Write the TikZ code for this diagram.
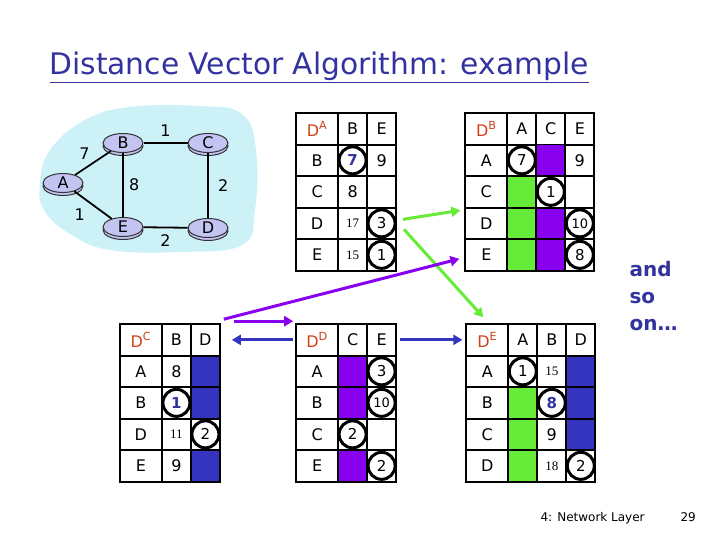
\documentclass[tikz,border=0pt]{standalone}
\usepackage{fontspec}
\setmainfont{DejaVu Sans}
\newfontfamily\numfont{Liberation Serif}
\usepackage{tikz}
\usetikzlibrary{matrix, positioning, arrows.meta, shapes.geometric, shadows}
\definecolor{dvred}{RGB}{208, 64, 24}
\definecolor{dvblue}{RGB}{51, 51, 160}
\definecolor{dvgreen}{RGB}{102, 236, 56}
\definecolor{dvpurple}{RGB}{136, 0, 238}
\definecolor{dvdblue}{RGB}{52, 52, 190}
\definecolor{netcyan}{RGB}{204, 242, 248}
\definecolor{routerfill}{RGB}{196, 196, 242}
\newcommand{\dvhead}[1]{\textcolor{dvred}{D\textsuperscript{#1}}}

\begin{document}
\begin{tikzpicture}[
    x=1pt, y=-1pt,
    cell/.style={draw, line width=1.8pt, minimum width=29pt,
                 minimum height=31.5pt, inner sep=0pt, anchor=center,
                 font=\fontsize{16}{16}\selectfont},
    dvtable/.style={matrix of nodes, nodes in empty cells, nodes={cell},
                    row sep=-1.8pt, column sep=-1.8pt, inner sep=0pt,
                    column 1/.style={nodes={minimum width=42pt}}},
    ring/.style={circle, draw, fill=white, line width=3pt,
                 minimum size=27pt, inner sep=0pt,
                 font=\fontsize{15}{15}\selectfont},
    small/.style={font=\fontsize{13}{13}\numfont},
    router/.style={ellipse, draw=black!80, fill=routerfill, line width=1pt,
                   minimum width=40pt, minimum height=19pt, inner sep=0pt,
                   copy shadow={shadow xshift=0pt, shadow yshift=-3pt},
                   font=\fontsize{16}{16}\selectfont},
    link/.style={line width=1.8pt},
    cost/.style={font=\fontsize{16}{16}\selectfont},
    arr/.style={-{Triangle[length=9pt, width=10pt]}, line width=3pt}
  ]
    \useasboundingbox (0,0) rectangle (720,540);

    \node[anchor=base west, text=dvblue, font=\fontsize{29.7}{30}\selectfont]
      (title) at (46,75) {\underline{Distance Vector Algorithm: example}};

    % network
    \fill[netcyan] plot[smooth cycle, tension=0.7] coordinates {
      (40,183) (50,150) (85,120) (130,107) (200,106) (242,114) (256,150)
      (255,210) (242,245) (180,252) (110,250) (70,234) (44,210)};
    \node[router] (rA) at (63,183) {A};
    \node[router] (rB) at (123,143) {B};
    \node[router] (rC) at (208,143) {C};
    \node[router] (rE) at (123,227) {E};
    \node[router] (rD) at (208,228) {D};
    \draw[link] (rA) -- node[cost, above left=-1pt] {7} (rB);
    \draw[link] (rB) -- node[cost, above=2pt] {1} (rC);
    \draw[link] (rC) -- node[cost, right=6pt] {2} (rD);
    \draw[link] (rB) -- node[cost, right=2pt] {8} (rE);
    \draw[link] (rA) -- node[cost, below left=0pt and 4pt] {1} (rE);
    \draw[link] (rE) -- node[cost, below=3pt] {2} (rD);

    % tables
    \matrix[dvtable, anchor=north west] (tA) at (295,112) {
      \dvhead{A} & B & E \\
      B & & 9 \\
      C & 8 & \\
      D & |[small]| 17 & \\
      E & |[small]| 15 & \\
    };
    \node[ring, text=dvblue] (cA-7) at (tA-2-2) {\textbf{7}};
    \node[ring] (cA-3) at (tA-4-3) {3};
    \node[ring] (cA-1) at (tA-5-3) {1};

    \matrix[dvtable, right=67pt of tA] (tB) {
      \dvhead{B} & A & C & E \\
      A & & |[fill=dvpurple]| & 9 \\
      C & |[fill=dvgreen]| & & \\
      D & |[fill=dvgreen]| & |[fill=dvpurple]| & \\
      E & |[fill=dvgreen]| & |[fill=dvpurple]| & \\
    };
    \node[ring] (cB-7) at (tB-2-2) {7};
    \node[ring] (cB-1) at (tB-3-3) {1};
    \node[ring, font=\fontsize{13}{13}\selectfont] (cB-10) at (tB-4-4) {10};
    \node[ring] (cB-8) at (tB-5-4) {8};

    \matrix[dvtable, anchor=north west] (tD) at (295,323) {
      \dvhead{D} & C & E \\
      A & |[fill=dvpurple]| & \\
      B & |[fill=dvpurple]| & \\
      C & & \\
      E & |[fill=dvpurple]| & \\
    };
    \node[ring] (cD-3) at (tD-2-3) {3};
    \node[ring, font=\fontsize{13}{13}\selectfont] (cD-10) at (tD-3-3) {10};
    \node[ring] (cD-2a) at (tD-4-2) {2};
    \node[ring] (cD-2b) at (tD-5-3) {2};

    \matrix[dvtable, left=74pt of tD] (tC) {
      \dvhead{C} & B & D \\
      A & 8 & |[fill=dvdblue]| \\
      B & & |[fill=dvdblue]| \\
      D & |[small]| 11 & \\
      E & 9 & |[fill=dvdblue]| \\
    };
    \node[ring, text=dvblue] (cC-1) at (tC-3-2) {\textbf{1}};
    \node[ring] (cC-2) at (tC-4-3) {2};

    \matrix[dvtable, right=68pt of tD] (tE) {
      \dvhead{E} & A & B & D \\
      A & & |[small]| 15 & |[fill=dvdblue]| \\
      B & |[fill=dvgreen]| & & |[fill=dvdblue]| \\
      C & |[fill=dvgreen]| & 9 & |[fill=dvdblue]| \\
      D & |[fill=dvgreen]| & |[small]| 18 & \\
    };
    \node[ring] (cE-1) at (tE-2-2) {1};
    \node[ring, text=dvblue] (cE-8) at (tE-3-3) {\textbf{8}};
    \node[ring] (cE-2) at (tE-5-4) {2};

    % vectors sent to neighbours
    \draw[arr, dvgreen] ([shift={(6pt,4pt)}]tA-4-3.east) --
      ([shift={(-4pt,13pt)}]tB-4-1.west);
    \draw[arr, dvgreen] ([shift={(7pt,-6pt)}]tA-4-3.east) --
      ([shift={(-4pt,6pt)}]tE-1-1.north);
    \draw[arr, dvpurple] ([shift={(3pt,4pt)}]tC-1-3.north east) --
      ([shift={(-5pt,-4pt)}]tB-5-1.west);
    \draw[arr, dvpurple] ([shift={(13pt,2pt)}]tC-1-3.north east) --
      ([shift={(-2pt,2pt)}]tD-1-1.north west);
    \draw[arr, dvdblue] ([xshift=-2pt]tD-1-1.west) --
      ([xshift=11pt]tC-1-3.east);
    \draw[arr, dvdblue] ([xshift=3pt]tD-1-3.east) --
      ([xshift=-3pt]tE-1-1.west);

    \node[anchor=north west, align=left, text=dvblue,
          font=\fontsize{20}{27}\selectfont\bfseries]
      (more) at (626,258) {and\\so\\on…};
    \node[anchor=base west, font=\fontsize{12}{12}\selectfont]
      (foot) at (537,521) {4: Network Layer};
    \node[anchor=base west, font=\fontsize{12}{12}\selectfont]
      (page) at (677,521) {29};
  \end{tikzpicture}
\end{document}
